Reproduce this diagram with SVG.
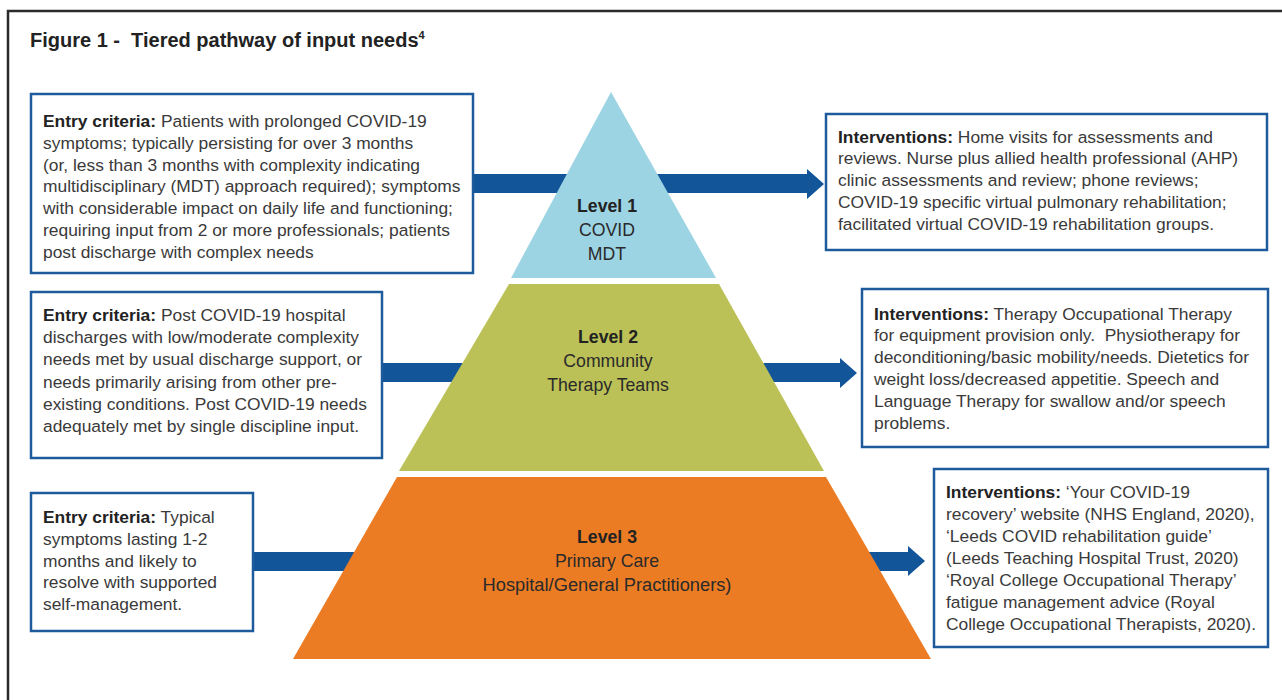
<svg xmlns="http://www.w3.org/2000/svg" width="1282" height="700" viewBox="0 0 1282 700">
<style>
text{font-family:"Liberation Sans",Arial,Helvetica,sans-serif;}
.t{font-size:17.4px;fill:#3a3a3a;}
.b{font-weight:bold;fill:#222;}
.box{fill:#fff;stroke:#1e5b9c;stroke-width:2.5;}
.arr{fill:#135599;}
.lv{font-size:17.7px;fill:#2a2a2a;text-anchor:middle;}
</style>
<rect width="1282" height="700" fill="#fff"/>
<path d="M8,700 V11 H1282" fill="none" stroke="#2b2b2b" stroke-width="2.5"/>
<text x="30" y="47" xml:space="preserve" style="font-size:20px;font-weight:bold;fill:#222">Figure 1 -  Tiered pathway of input needs<tspan font-size="11" dy="-8">4</tspan></text>

<g id="connectors">
<polygon class="arr" points="473,174 807,174 807,169 824,184 807,199 807,193 473,193"/>
<polygon class="arr" points="382,363 840,363 840,358 857,373 840,388 840,382 382,382"/>
<polygon class="arr" points="253,552 908,552 908,546 925,561 908,576 908,571 253,571"/>
</g>

<g id="level1">
<polygon points="611,92 511,278 716,278" fill="#9cd4e4"/>
<text class="lv" x="607" y="212"><tspan font-weight="bold" fill="#222">Level 1</tspan><tspan x="607" dy="24">COVID</tspan><tspan x="607" dy="24">MDT</tspan></text>
</g>
<g id="level2">
<polygon points="509,284 719,284 824,471 399,471" fill="#bbc157"/>
<text class="lv" x="608" y="343"><tspan font-weight="bold" fill="#222">Level 2</tspan><tspan x="608" dy="24">Community</tspan><tspan x="608" dy="24">Therapy Teams</tspan></text>
</g>
<g id="level3">
<polygon points="397,477 826,477 931,659 293,659" fill="#ec7c24"/>
<text class="lv" x="607" y="543"><tspan font-weight="bold" fill="#222">Level 3</tspan><tspan x="607" dy="24">Primary Care</tspan><tspan x="607" dy="24" font-size="18.3">Hospital/General Practitioners)</tspan></text>
</g>

<g id="entry1">
<rect class="box" x="31" y="94" width="442" height="179"/>
<text class="t" x="43" y="127"><tspan class="b">Entry criteria:</tspan> Patients with prolonged COVID-19<tspan x="43" dy="21.8">symptoms; typically persisting for over 3 months</tspan><tspan x="43" dy="21.8">(or, less than 3 months with complexity indicating</tspan><tspan x="43" dy="21.8">multidisciplinary (MDT) approach required); symptoms</tspan><tspan x="43" dy="21.8">with considerable impact on daily life and functioning;</tspan><tspan x="43" dy="21.8">requiring input from 2 or more professionals; patients</tspan><tspan x="43" dy="21.8">post discharge with complex needs</tspan></text>
</g>
<g id="entry2">
<rect class="box" x="31" y="292" width="351" height="166"/>
<text class="t" x="43" y="321"><tspan class="b">Entry criteria:</tspan> Post COVID-19 hospital<tspan x="43" dy="22.2">discharges with low/moderate complexity</tspan><tspan x="43" dy="22.2">needs met by usual discharge support, or</tspan><tspan x="43" dy="22.2">needs primarily arising from other pre-</tspan><tspan x="43" dy="22.2">existing conditions. Post COVID-19 needs</tspan><tspan x="43" dy="22.2">adequately met by single discipline input.</tspan></text>
</g>
<g id="entry3">
<rect class="box" x="31" y="493" width="222" height="138"/>
<text class="t" x="43" y="523"><tspan class="b">Entry criteria:</tspan> Typical<tspan x="43" dy="21.8">symptoms lasting 1-2</tspan><tspan x="43" dy="21.8">months and likely to</tspan><tspan x="43" dy="21.8">resolve with supported</tspan><tspan x="43" dy="21.8">self-management.</tspan></text>
</g>

<g id="interventions1">
<rect class="box" x="826" y="114" width="441" height="136"/>
<text class="t" x="838" y="142.5"><tspan class="b">Interventions:</tspan> Home visits for assessments and<tspan x="838" dy="21.8">reviews. Nurse plus allied health professional (AHP)</tspan><tspan x="838" dy="21.8">clinic assessments and review; phone reviews;</tspan><tspan x="838" dy="21.8">COVID-19 specific virtual pulmonary rehabilitation;</tspan><tspan x="838" dy="21.8">facilitated virtual COVID-19 rehabilitation groups.</tspan></text>
</g>
<g id="interventions2">
<rect class="box" x="862" y="289" width="406" height="158"/>
<text class="t" x="874" y="319.5" xml:space="preserve"><tspan class="b">Interventions:</tspan> Therapy Occupational Therapy<tspan x="874" dy="21.8">for equipment provision only.  Physiotherapy for</tspan><tspan x="874" dy="21.8">deconditioning/basic mobility/needs. Dietetics for</tspan><tspan x="874" dy="21.8">weight loss/decreased appetitie. Speech and</tspan><tspan x="874" dy="21.8">Language Therapy for swallow and/or speech</tspan><tspan x="874" dy="21.8">problems.</tspan></text>
</g>
<g id="interventions3">
<rect class="box" x="934" y="469" width="334" height="178"/>
<text class="t" x="946" y="498"><tspan class="b">Interventions:</tspan> ‘Your COVID-19<tspan x="946" dy="22">recovery’ website (NHS England, 2020),</tspan><tspan x="946" dy="22">‘Leeds COVID rehabilitation guide’</tspan><tspan x="946" dy="22">(Leeds Teaching Hospital Trust, 2020)</tspan><tspan x="946" dy="22">‘Royal College Occupational Therapy’</tspan><tspan x="946" dy="22">fatigue management advice (Royal</tspan><tspan x="946" dy="22">College Occupational Therapists, 2020).</tspan></text>
</g>
</svg>
